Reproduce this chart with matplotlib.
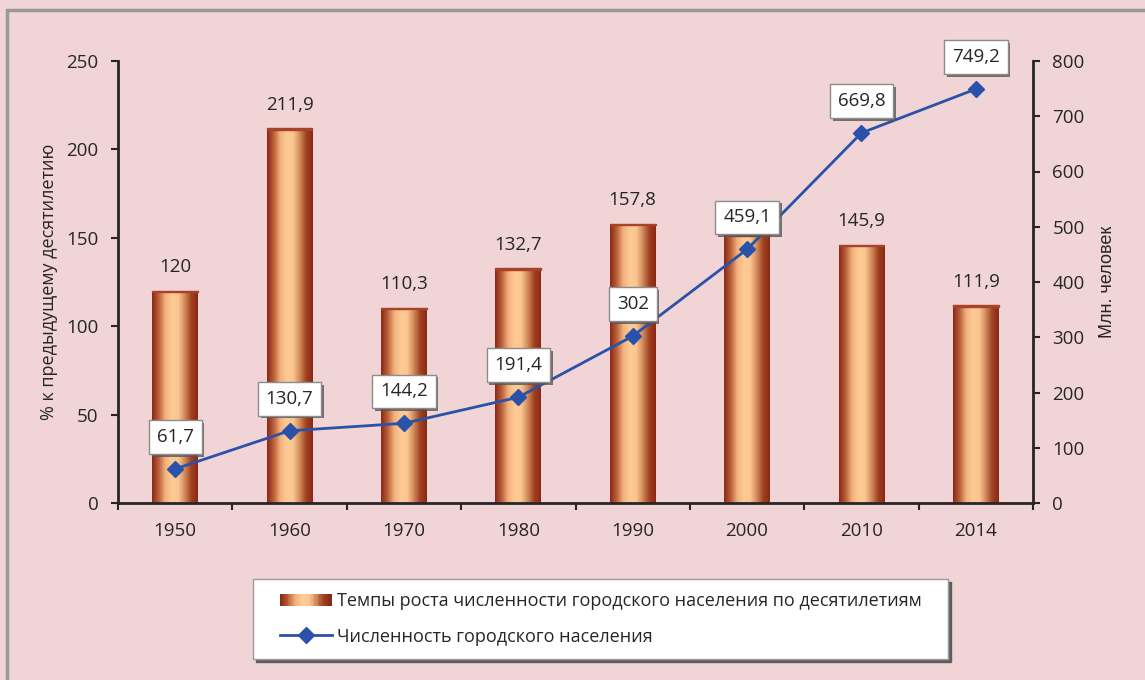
import numpy as np
import matplotlib.pyplot as plt
from matplotlib.colors import LinearSegmentedColormap
from matplotlib.patches import Rectangle
from matplotlib.legend_handler import HandlerBase
from matplotlib.lines import Line2D
import matplotlib.patheffects as pe

years = ['1950', '1960', '1970', '1980', '1990', '2000', '2010', '2014']
growth = [120, 211.9, 110.3, 132.7, 157.8, 152, 145.9, 111.9]
growth_labels = ['120', '211,9', '110,3', '132,7', '157,8', '', '145,9', '111,9']
urban = [61.7, 130.7, 144.2, 191.4, 302, 459.1, 669.8, 749.2]
urban_labels = ['61,7', '130,7', '144,2', '191,4', '302', '459,1', '669,8', '749,2']

bg = '#f0d4d6'
txt = '#262626'
blue = '#2a52a8'
plt.rcParams['font.family'] = ['Open Sans', 'DejaVu Sans']

bar_cmap = LinearSegmentedColormap.from_list(
    'copper_bar', ['#8a2816', '#b85e38', '#f2b07c', '#fdca95', '#fbc690', '#d08a5c', '#a0401f', '#8a2816'])

fig = plt.figure(figsize=(11.45, 6.8), dpi=100, facecolor=bg)
# frame of the picture
fig.patches.append(Rectangle((7 / 1145, -0.1), 1.2, 1 - 10 / 680 + 0.1, transform=fig.transFigure,
                             fill=False, edgecolor='#9a9a9a', linewidth=2.5))

ax = fig.add_axes([118 / 1145, 1 - 503 / 680, 915 / 1145, 442 / 680])
ax.set_facecolor('none')
x = np.arange(len(years))

bars = ax.bar(x, growth, width=0.4, color='none', edgecolor='none', zorder=2)
grad = np.linspace(0, 1, 256).reshape(1, -1)
for b in bars:
    im = ax.imshow(grad, cmap=bar_cmap, aspect='auto', zorder=2,
                   extent=[b.get_x(), b.get_x() + b.get_width(), 0, b.get_height()])
    im.set_clip_path(b)
    ax.add_patch(Rectangle((b.get_x(), b.get_height() - 0.8), b.get_width(), 0.8,
                           color='#a8422a', zorder=3))

for xi, v, lab in zip(x, growth, growth_labels):
    ax.annotate(lab, (xi, v), xytext=(0, 17), textcoords='offset points',
                ha='center', va='center', fontsize=13.5, color=txt)

ax.set_xlim(-0.5, 7.5)
ax.set_ylim(0, 250)
ax.set_yticks(range(0, 251, 50))
ax.set_xticks(x)
ax.set_xticklabels(years)
ax.set_xticks(np.arange(-0.5, 8, 1), minor=True)
ax.tick_params(axis='x', which='major', length=0, pad=14, labelsize=13.5, labelcolor=txt)
ax.tick_params(axis='x', which='minor', length=5, width=1.5, color=txt, direction='out')
ax.tick_params(axis='y', length=5, width=1.5, color=txt, pad=9, labelsize=13.5, labelcolor=txt)
for s in ['top', 'right']:
    ax.spines[s].set_visible(False)
for s in ['left', 'bottom']:
    ax.spines[s].set_linewidth(2)
    ax.spines[s].set_color(txt)
ax.set_ylabel('% к предыдущему десятилетию', fontsize=13, color=txt, labelpad=6)

ax2 = ax.twinx()
ax2.plot(x, urban, color=blue, linewidth=2, marker='D', markersize=8, zorder=4)
ax2.set_ylim(0, 800)
ax2.set_yticks(range(0, 801, 100))
ax2.tick_params(axis='y', length=5, width=1.5, color=txt, pad=9, labelsize=13.5, labelcolor=txt)
for s in ['top', 'left', 'bottom']:
    ax2.spines[s].set_visible(False)
ax2.spines['right'].set_linewidth(2)
ax2.spines['right'].set_color(txt)
ax2.set_ylabel('Млн. человек', fontsize=13, color=txt, family='Liberation Sans', labelpad=10)

for xi, v, lab in zip(x, urban, urban_labels):
    t = ax2.annotate(lab, (xi, v), xytext=(0, 23), textcoords='offset points',
                     ha='center', va='center', fontsize=13.5, color=txt, zorder=6,
                     bbox=dict(boxstyle='square,pad=0.42', facecolor='white', edgecolor='#8c8c8c', linewidth=1))
    t.get_bbox_patch().set_path_effects([pe.SimplePatchShadow(offset=(2, -2), shadow_rgbFace='#555555', alpha=0.8),
                                          pe.Normal()])

LEG_OFF = 9.5  # empty room left of the legend keys, points


class GradientHandler(HandlerBase):
    def create_artists(self, legend, orig_handle, xdescent, ydescent, width, height, fontsize, trans):
        n = 30
        x0 = -xdescent + LEG_OFF
        w = width - LEG_OFF
        arts = []
        for i in range(n):
            arts.append(Rectangle((x0 + w * i / n, -ydescent), w / n + 0.3, height,
                                  facecolor=bar_cmap(i / (n - 1)), edgecolor='none', transform=trans))
        return arts


class LineHandler(HandlerBase):
    def create_artists(self, legend, orig_handle, xdescent, ydescent, width, height, fontsize, trans):
        x0 = -xdescent + LEG_OFF
        y = -ydescent + height / 2
        ln = Line2D([x0, -xdescent + width], [y, y], color=blue, linewidth=2, transform=trans)
        mk = Line2D([(x0 - xdescent + width) / 2], [y], color=blue, marker='D', markersize=8,
                    linestyle='none', transform=trans)
        return [ln, mk]


bar_handle = Rectangle((0, 0), 1, 1)
line_handle = Line2D([], [])
leg = fig.legend([bar_handle, line_handle],
                 ['Темпы роста численности городского населения по десятилетиям',
                  'Численность городского населения'],
                 handler_map={Rectangle: GradientHandler(), Line2D: LineHandler()},
                 loc='center left', bbox_to_anchor=(253 / 1145, 1 - 660 / 680, 695 / 1145, 82 / 680),
                 mode='expand', fontsize=13, frameon=True, fancybox=False, shadow={'color': '#555555', 'alpha': 0.9},
                 handlelength=3.6, handletextpad=0.3, labelspacing=0.95, borderpad=0.75, borderaxespad=0)
leg.get_frame().set_facecolor('white')
leg.get_frame().set_edgecolor('#9a9a9a')
for t in leg.get_texts():
    t.set_color(txt)

fig.savefig('out.png', dpi=100, facecolor=bg)
